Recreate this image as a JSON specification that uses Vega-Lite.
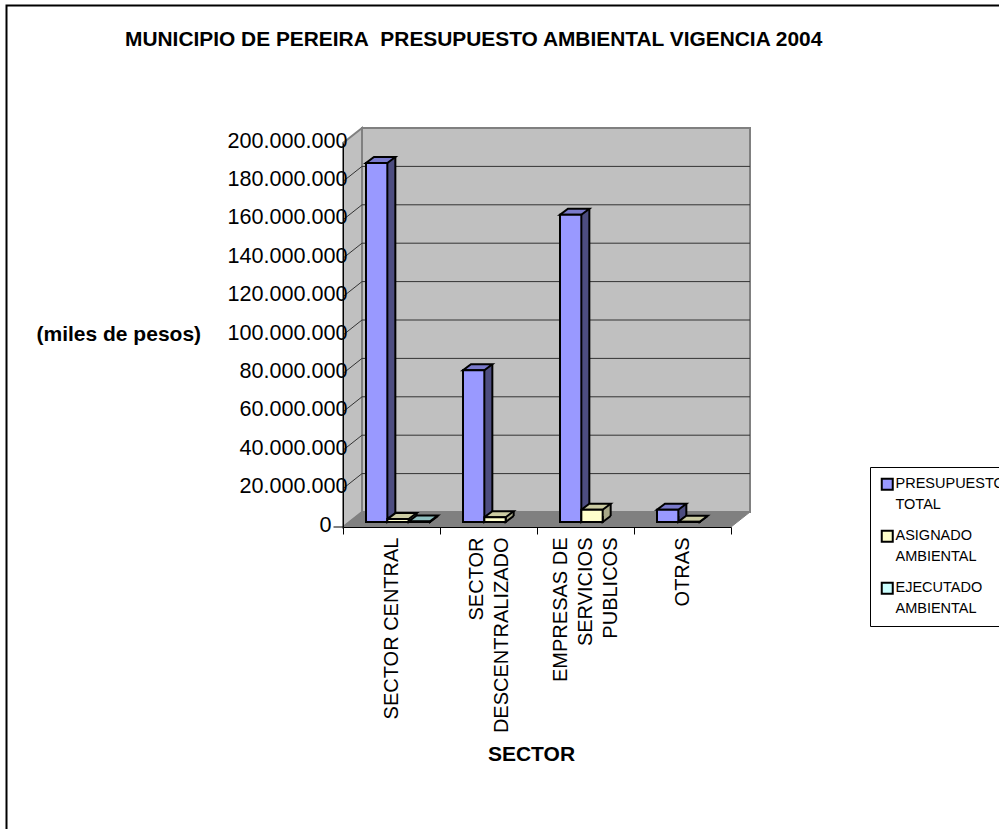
{
"$schema":"https://vega.github.io/schema/vega-lite/v6.json",
"width":388,"height":384,
"autosize":"none",
"padding":{"left":343,"top":143,"right":268,"bottom":302},
"background":"white",
"title":{"text":"MUNICIPIO DE PEREIRA\u00a0 PRESUPUESTO AMBIENTAL VIGENCIA 2004","anchor":"start","frame":"group","dx":-218,"offset":-48,"font":"Liberation Sans","fontSize":20.9,"fontWeight":"bold","color":"black"},
"config":{"view":{"stroke":null},"font":"Liberation Sans"},
"datasets":{
"bars":[
{"sector":"SECTOR CENTRAL","serie":"PRESUPUESTO TOTAL","value":187000000},
{"sector":"SECTOR CENTRAL","serie":"ASIGNADO AMBIENTAL","value":1500000},
{"sector":"SECTOR CENTRAL","serie":"EJECUTADO AMBIENTAL","value":300000},
{"sector":"SECTOR DESCENTRALIZADO","serie":"PRESUPUESTO TOTAL","value":79000000},
{"sector":"SECTOR DESCENTRALIZADO","serie":"ASIGNADO AMBIENTAL","value":2500000},
{"sector":"EMPRESAS DE SERVICIOS PUBLICOS","serie":"PRESUPUESTO TOTAL","value":160000000},
{"sector":"EMPRESAS DE SERVICIOS PUBLICOS","serie":"ASIGNADO AMBIENTAL","value":6400000},
{"sector":"OTRAS","serie":"PRESUPUESTO TOTAL","value":6400000},
{"sector":"OTRAS","serie":"ASIGNADO AMBIENTAL","value":100000}
],
"anchor":[{"sector":"SECTOR CENTRAL","value":0}],
"ticks":[
{"sector":"SECTOR CENTRAL","value":20000000},{"sector":"SECTOR CENTRAL","value":40000000},{"sector":"SECTOR CENTRAL","value":60000000},{"sector":"SECTOR CENTRAL","value":80000000},{"sector":"SECTOR CENTRAL","value":100000000},{"sector":"SECTOR CENTRAL","value":120000000},{"sector":"SECTOR CENTRAL","value":140000000},{"sector":"SECTOR CENTRAL","value":160000000},{"sector":"SECTOR CENTRAL","value":180000000}
]
},
"data":{"name":"bars"},
"encoding":{
"x":{"field":"sector","type":"nominal","sort":["SECTOR CENTRAL","SECTOR DESCENTRALIZADO","EMPRESAS DE SERVICIOS PUBLICOS","OTRAS"],
"scale":{"type":"band","paddingInner":0,"paddingOuter":0},
"axis":{"title":"SECTOR","titleFont":"Liberation Sans","titleFontSize":21,"titleFontWeight":"bold","titleColor":"black","titleX":188,"titleY":216,"titleAnchor":"middle",
"tickBand":"extent","tickSize":7,"tickColor":"black","domainColor":"black","labelAngle":270,"labelColor":"black","labelFont":"Liberation Sans","labelFontSize":20,"labelFontWeight":"normal","labelPadding":3,"labelLimit":400,"labelLineHeight":25,"labelOverlap":false,
"labelOffset":{"condition":[{"test":"datum.label=='SECTOR DESCENTRALIZADO'","value":-12},{"test":"datum.label=='EMPRESAS DE SERVICIOS PUBLICOS'","value":-25}],"value":0},
"labelExpr":"datum.label=='SECTOR CENTRAL'?'SECTOR CENTRAL':datum.label=='SECTOR DESCENTRALIZADO'?['SECTOR','DESCENTRALIZADO']:datum.label=='OTRAS'?'OTRAS':datum.label=='EMPRESAS DE SERVICIOS PUBLICOS'?['EMPRESAS DE','SERVICIOS','PUBLICOS']:''","zindex":1}},
"y":{"field":"value","type":"quantitative","scale":{"domain":[0,200000000],"nice":false},
"axis":{"title":"(miles de pesos)","titleFont":"Liberation Sans","titleFontSize":21,"titleFontWeight":"bold","titleColor":"black","titleAngle":0,"titleAlign":"left","titleBaseline":"middle","titleX":-307,"titleY":191,
"values":[0,20000000,40000000,60000000,80000000,100000000,120000000,140000000,160000000,180000000,200000000],
"ticks":false,"grid":false,"domainColor":"black","labelColor":"black","labelFont":"Liberation Sans","labelFontSize":21.6,"labelPadding":{"condition":{"test":"datum.value==0","value":12},"value":-4},"labelOffset":-2,"labelLimit":300,"labelOverlap":false,"labelFlush":false,
"labelExpr":"replace(format(datum.value,','),/,/g,'.')","zindex":1}}
},
"layer":[
{"data":{"name":"anchor"},"mark":{"type":"point","shape":"M-29.5,-15 L-29.5,-399 L358.5,-399 L358.5,-15 Z","size":4,"filled":true,"fill":"#c0c0c0","stroke":"#808080","strokeWidth":2,"opacity":1}},
{"data":{"name":"anchor"},"mark":{"type":"point","shape":"M-48.5,0 L-29.5,-15 L-29.5,-399 L-48.5,-384 Z","size":4,"filled":true,"fill":"#c0c0c0","stroke":"#808080","strokeWidth":2,"opacity":1}},
{"data":{"name":"anchor"},"mark":{"type":"point","shape":"M-48.5,0 L-29.5,-15 L358.5,-15 L339.5,0 Z","size":4,"filled":true,"fill":"#808080","stroke":"#808080","strokeWidth":1,"opacity":1}},
{"data":{"name":"anchor"},"mark":{"type":"point","shape":"M-385,400 L-385,-521.5 L700,-521.5","size":4,"filled":false,"stroke":"black","strokeWidth":2,"opacity":1}},
{"data":{"name":"anchor"},"mark":{"type":"point","shape":"M-58,0 L-48.5,0","size":4,"filled":false,"stroke":"black","strokeWidth":1,"opacity":1}},
{"data":{"name":"ticks"},"mark":{"type":"point","shape":"M-48.5,0 L-29.5,-15 L358.5,-15","size":4,"filled":false,"stroke":"#333333","strokeWidth":1,"opacity":1}},
{"mark":{"type":"rect","yOffset":-11,"y2Offset":-11},
 "encoding":{"xOffset":{"field":"serie","scale":{"type":"band","domain":["PRESUPUESTO TOTAL","ASIGNADO AMBIENTAL","EJECUTADO AMBIENTAL"],"range":[31,95],"paddingInner":0,"paddingOuter":0}},"y2":{"datum":0},
 "fill":{"field":"serie","legend":null,"scale":{"domain":["PRESUPUESTO TOTAL","ASIGNADO AMBIENTAL","EJECUTADO AMBIENTAL"],"range":["#4d4d80","#a8a888","#7fa0a0"]}}}},
{"mark":{"type":"rule","stroke":"black","strokeWidth":2,"yOffset":-11,"y2Offset":-11},
 "encoding":{"xOffset":{"field":"serie","scale":{"type":"band","domain":["PRESUPUESTO TOTAL","ASIGNADO AMBIENTAL","EJECUTADO AMBIENTAL"],"range":[41.67,105.67],"paddingInner":0,"paddingOuter":0}},"y2":{"datum":0}}},
{"mark":{"type":"point","shape":"M10.67,-11 L10.67,-5 L18.67,-11","size":4,"filled":true,"stroke":"black","strokeWidth":2,"opacity":1},
 "encoding":{"xOffset":{"field":"serie","scale":{"type":"band","domain":["PRESUPUESTO TOTAL","ASIGNADO AMBIENTAL","EJECUTADO AMBIENTAL"],"range":[23,87],"paddingInner":0,"paddingOuter":0}},"y":{"datum":0},
 "fill":{"field":"serie","legend":null,"scale":{"domain":["PRESUPUESTO TOTAL","ASIGNADO AMBIENTAL","EJECUTADO AMBIENTAL"],"range":["#4d4d80","#a8a888","#7fa0a0"]}}}},
{"mark":{"type":"point","shape":"M-10.67,-5 L10.67,-5 L18.67,-11 L-2.67,-11 Z","size":4,"filled":true,"stroke":"black","strokeWidth":2,"opacity":1},
 "encoding":{"xOffset":{"field":"serie","scale":{"type":"band","domain":["PRESUPUESTO TOTAL","ASIGNADO AMBIENTAL","EJECUTADO AMBIENTAL"],"range":[23,87],"paddingInner":0,"paddingOuter":0}},
 "fill":{"field":"serie","legend":null,"scale":{"domain":["PRESUPUESTO TOTAL","ASIGNADO AMBIENTAL","EJECUTADO AMBIENTAL"],"range":["#7a7acc","#cccca3","#8fbfbf"]}}}},
{"mark":{"type":"rect","stroke":"black","strokeWidth":2,"yOffset":-5,"y2Offset":-5},
 "encoding":{"xOffset":{"field":"serie","scale":{"type":"band","domain":["PRESUPUESTO TOTAL","ASIGNADO AMBIENTAL","EJECUTADO AMBIENTAL"],"range":[23,87],"paddingInner":0,"paddingOuter":0}},"y2":{"datum":0},
 "fill":{"field":"serie","scale":{"domain":["PRESUPUESTO TOTAL","ASIGNADO AMBIENTAL","EJECUTADO AMBIENTAL"],"range":["#9999ff","#ffffcc","#ccffff"]},
 "legend":{"title":null,"orient":"none","legendX":527,"legendY":324,"padding":10,"fillColor":"white","strokeColor":"black","symbolType":"square","symbolSize":121,"symbolStrokeColor":"black","symbolStrokeWidth":2,"labelFont":"Liberation Sans","labelFontSize":14.5,"labelColor":"black","labelLimit":400,"rowPadding":14,"labelOffset":1,"labelExpr":"split(datum.label,' ')","encode":{"labels":{"update":{"lineHeight":{"value":21}}}}}}}}
],
"resolve":{"scale":{"fill":"independent","xOffset":"independent"}}
}
